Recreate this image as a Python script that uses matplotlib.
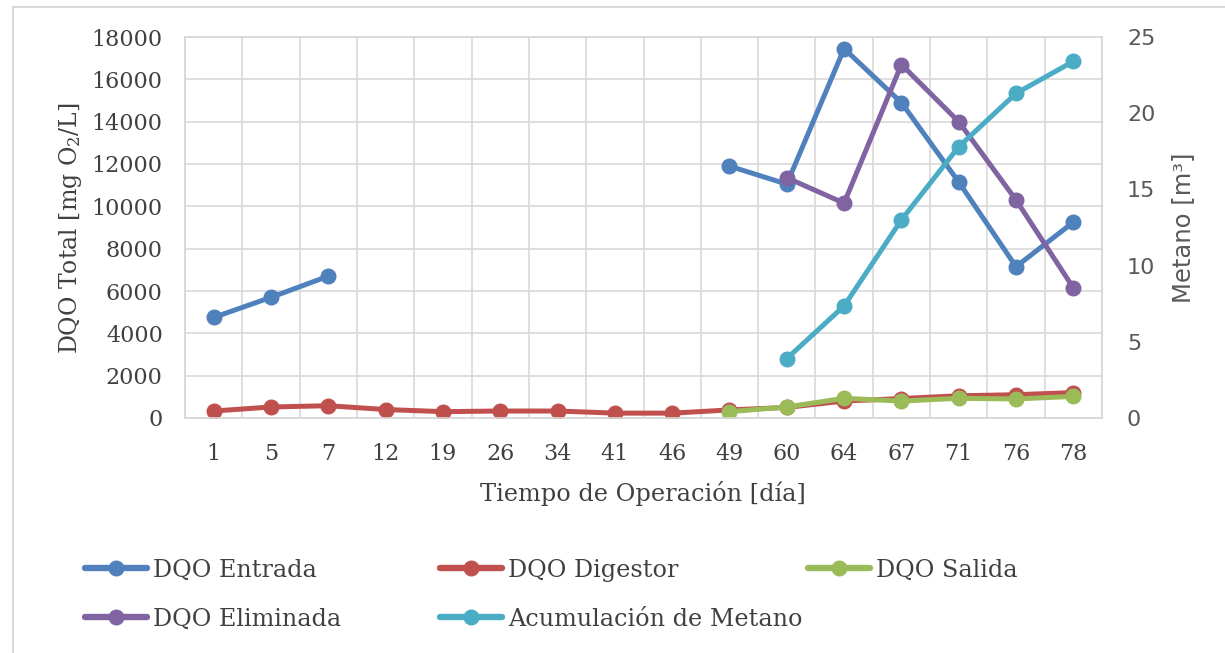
import numpy as np
import matplotlib
matplotlib.use("Agg")
import matplotlib.pyplot as plt
from matplotlib.lines import Line2D
from matplotlib.patches import Rectangle

plt.rcParams["mathtext.fontset"] = "dejavuserif"

# ---- data ---------------------------------------------------------------
dias = ["1", "5", "7", "12", "19", "26", "34", "41", "46", "49",
        "60", "64", "67", "71", "76", "78"]
nan = np.nan
dqo_entrada = [4750, 5700, 6700, nan, nan, nan, nan, nan, nan, 11900,
               11050, 17450, 14900, 11150, 7150, 9250]
dqo_digestor = [330, 520, 580, 400, 300, 330, 330, 230, 230, 380,
                500, 800, 920, 1050, 1100, 1200]
dqo_salida = [nan, nan, nan, nan, nan, nan, nan, nan, nan, 300,
              520, 930, 800, 930, 900, 1020]
dqo_eliminada = [nan, nan, nan, nan, nan, nan, nan, nan, nan, nan,
                 11350, 10150, 16700, 14000, 10300, 6150]
metano_acum = [nan, nan, nan, nan, nan, nan, nan, nan, nan, nan,
               3.9, 7.35, 13.0, 17.8, 21.3, 23.4]

labels = ["DQO Entrada", "DQO Digestor", "DQO Salida",
          "DQO Eliminada", "Acumulación de Metano"]
colors = ["#4F81BD", "#C0504D", "#9BBB59", "#8064A2", "#4BACC6"]

W, H = 1225, 653
fig = plt.figure(figsize=(W / 100, H / 100), dpi=100)
fig.patch.set_facecolor("white")

def fx(px):
    return px / W

def fy(py):
    return 1 - py / H

left, right, top, bottom = 185, 1102, 37, 418
ax = fig.add_axes([fx(left), fy(bottom), fx(right - left), (bottom - top) / H])
ax2 = ax.twinx()

x = np.arange(len(dias))
lw, ms = 3.6, 10.5
serif = "DejaVu Serif"
txt = "#404040"

series_left = [dqo_entrada, dqo_digestor, dqo_salida, dqo_eliminada]
for vals, c in zip(series_left, colors[:4]):
    ax.plot(x, vals, color=c, lw=lw, marker="o", ms=ms, solid_capstyle="round",
            solid_joinstyle="round", zorder=3)
ax2.plot(x, metano_acum, color=colors[4], lw=lw, marker="o", ms=ms,
         solid_capstyle="round", solid_joinstyle="round", zorder=3)

# axes ranges and ticks
ax.set_xlim(-0.5, len(dias) - 0.5)
ax.set_ylim(0, 18000)
ax2.set_ylim(0, 25)
ax.set_yticks(np.arange(0, 18001, 2000))
ax2.set_yticks(np.arange(0, 26, 5))
ax.set_xticks(x)
ax.set_xticklabels(dias)
ax.set_xticks(np.arange(-0.5, len(dias), 1.0), minor=True)

ax.grid(True, axis="y", which="major", color="#D9D9D9", lw=1.2)
ax.grid(True, axis="x", which="minor", color="#D9D9D9", lw=1.2)
ax.set_axisbelow(True)

for a in (ax, ax2):
    for s in a.spines.values():
        s.set_color("#D9D9D9")
        s.set_linewidth(1.2)

ax.tick_params(axis="both", which="both", length=0)
ax.tick_params(axis="y", pad=16, labelsize=16, labelcolor=txt)
ax.tick_params(axis="x", pad=18, labelsize=16, labelcolor=txt)
ax2.tick_params(axis="y", length=0, pad=18, labelsize=16, labelcolor="#595959")
for lab in ax.get_xticklabels() + ax.get_yticklabels():
    lab.set_family(serif)
for lab in ax2.get_yticklabels():
    lab.set_family("DejaVu Sans")

# axis titles
fig.text(fx(70), fy(228), r"DQO Total [mg O$_2$/L]", rotation=90,
         ha="center", va="center", fontsize=17, family=serif, color=txt)
fig.text(fx(1183), fy(228), "Metano [m³]", rotation=90,
         ha="center", va="center", fontsize=17.5, family="DejaVu Sans",
         color="#595959")
fig.text(fx(643), fy(493), "Tiempo de Operación [día]", ha="center",
         va="center", fontsize=17.3, family=serif, color=txt)

# legend entries placed in a 3-column grid
positions = [(85, 570), (440, 570), (808, 570), (85, 619), (440, 619)]
for lab, c, (px, py) in zip(labels, colors, positions):
    h = Line2D([], [], color=c, lw=lw + 1, marker="o", ms=ms,
               solid_capstyle="round")
    leg = fig.legend([h], [lab], loc="center left",
                     bbox_to_anchor=(fx(px), fy(py)),
                     frameon=False, borderpad=0, borderaxespad=0,
                     handlelength=2.6, handletextpad=0.25, numpoints=1,
                     prop={"family": serif, "size": 17.2})
    for t in leg.get_texts():
        t.set_color(txt)

# chart border
fig.patches.append(Rectangle((fx(13), -0.05), 1.2, fy(7) + 0.05,
                             transform=fig.transFigure, fill=False,
                             edgecolor="#D9D9D9", lw=1.5, zorder=0))

fig.savefig("out.png", dpi=100, facecolor="white")
